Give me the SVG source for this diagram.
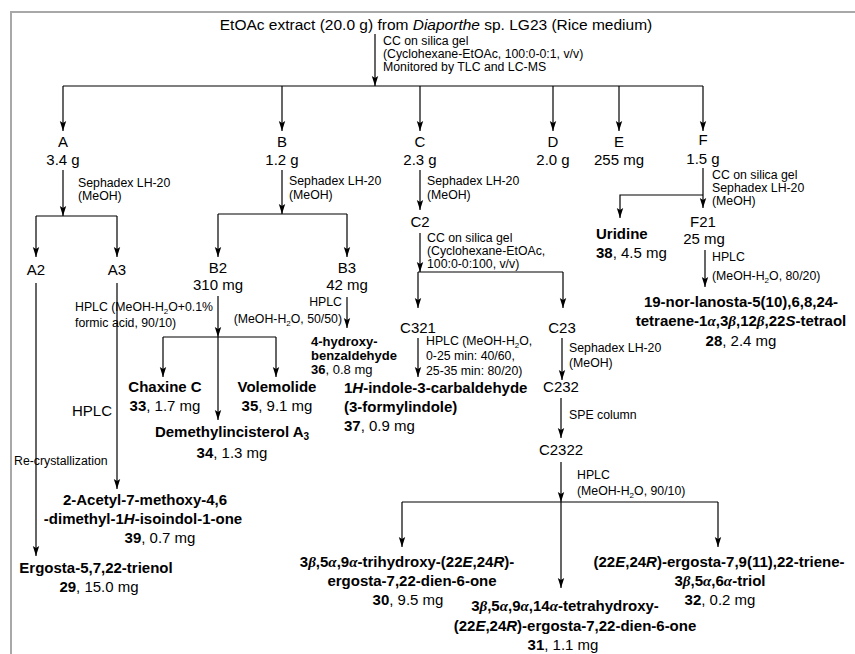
<svg xmlns="http://www.w3.org/2000/svg" width="855" height="654" viewBox="0 0 855 654">
<defs>
<marker id="ah" markerUnits="userSpaceOnUse" markerWidth="10" markerHeight="8" refX="10" refY="4" orient="auto"><path d="M0,0.8 L10,4 L0,7.2 L2,4 z" fill="#000"/></marker>
</defs>
<style>
text{font-family:"Liberation Sans",Arial,Helvetica,sans-serif;fill:#000}
.n{font-size:15px}
.s{font-size:12.3px}
.b{font-size:15px;font-weight:bold}
.bs{font-size:13px;font-weight:bold}
.g{font-family:"Liberation Serif","Times New Roman",serif;font-style:italic}
.i{font-style:italic}
.r{font-weight:normal}
.c{text-anchor:middle}
.e{text-anchor:end}
.ln{fill:none;stroke:#000;stroke-width:1.2}
.ar{marker-end:url(#ah)}
</style>
<rect width="855" height="654" fill="#fff"/>
<path d="M11,654 V12 H855" fill="none" stroke="#a8a8a8" stroke-width="2"/>
<g id="connectors" class="ln">
<path class="ar" d="M375,34 V86"/>
<path d="M63,86 H703"/>
<path class="ar" d="M63,86 V131"/>
<path class="ar" d="M282,86 V131"/>
<path class="ar" d="M420,86 V131"/>
<path class="ar" d="M553,86 V131"/>
<path class="ar" d="M619,86 V131"/>
<path class="ar" d="M703,86 V131"/>
<path class="ar" d="M63,170 V216"/>
<path d="M36,216 H117"/>
<path class="ar" d="M36,216 V257"/>
<path class="ar" d="M117,216 V257"/>
<path class="ar" d="M36,283 V556"/>
<path class="ar" d="M117,283 V489"/>
<path class="ar" d="M282,170 V214"/>
<path d="M218,214 H347"/>
<path class="ar" d="M218,214 V257"/>
<path class="ar" d="M347,214 V257"/>
<path class="ar" d="M218,296 V337"/>
<path class="ar" d="M218,337 V420"/>
<path d="M163,337 H276"/>
<path class="ar" d="M163,337 V377"/>
<path class="ar" d="M276,337 V377"/>
<path class="ar" d="M347,297 V328"/>
<path class="ar" d="M420,170 V210"/>
<path class="ar" d="M420,233 V272"/>
<path d="M418,272 H563"/>
<path class="ar" d="M418,272 V308"/>
<path class="ar" d="M563,272 V308"/>
<path class="ar" d="M418,338 V377"/>
<path class="ar" d="M562,338 V380"/>
<path class="ar" d="M561,398 V438"/>
<path class="ar" d="M561,462 V502"/>
<path d="M402,502 H718"/>
<path class="ar" d="M402,502 V547"/>
<path class="ar" d="M561,502 V588"/>
<path class="ar" d="M718,502 V547"/>
<path class="ar" d="M703,168 V208"/>
<path class="ar" d="M703,195 H620 V218"/>
<path class="ar" d="M705,250 V287"/>
</g>
<g id="labels">
<text class="s" x="383" y="45">CC on silica gel</text>
<text class="s" x="383" y="58">(Cyclohexane-EtOAc, 100:0-0:1, v/v)</text>
<text class="s" x="383" y="71">Monitored by TLC and LC-MS</text>
<text class="s" x="78" y="187">Sephadex LH-20</text>
<text class="s" x="78" y="200">(MeOH)</text>
<text class="s" x="289" y="185">Sephadex LH-20</text>
<text class="s" x="289" y="199">(MeOH)</text>
<text class="s" x="427" y="185">Sephadex LH-20</text>
<text class="s" x="427" y="199">(MeOH)</text>
<text class="s" x="427" y="242">CC on silica gel</text>
<text class="s" x="427" y="255">(Cyclohexane-EtOAc,</text>
<text class="s" x="427" y="268">100:0-0:100, v/v)</text>
<text class="s" x="712" y="179">CC on silica gel</text>
<text class="s" x="712" y="192">Sephadex LH-20</text>
<text class="s" x="712" y="205">(MeOH)</text>
<text class="s" x="712" y="261">HPLC</text>
<text class="s" x="712" y="280">(MeOH-H<tspan font-size="8" dy="3">2</tspan><tspan dy="-3">O, 80/20)</tspan></text>
<text class="s" x="75" y="311">HPLC (MeOH-H<tspan font-size="8" dy="3">2</tspan><tspan dy="-3">O+0.1%</tspan></text>
<text class="s" x="75" y="327">formic acid, 90/10)</text>
<text class="n e" x="112" y="416">HPLC</text>
<text class="s" x="14" y="465">Re-crystallization</text>
<text class="s e" x="342" y="306">HPLC</text>
<text class="s e" x="342" y="323">(MeOH-H<tspan font-size="8" dy="3">2</tspan><tspan dy="-3">O, 50/50)</tspan></text>
<text class="s" x="426" y="345">HPLC (MeOH-H<tspan font-size="8" dy="3">2</tspan><tspan dy="-3">O,</tspan></text>
<text class="s" x="426" y="360">0-25 min: 40/60,</text>
<text class="s" x="426" y="375">25-35 min: 80/20)</text>
<text class="s" x="569" y="352">Sephadex LH-20</text>
<text class="s" x="569" y="367">(MeOH)</text>
<text class="s" x="569" y="419">SPE column</text>
<text class="s" x="577" y="479">HPLC</text>
<text class="s" x="577" y="495">(MeOH-H<tspan font-size="8" dy="3">2</tspan><tspan dy="-3">O, 90/10)</tspan></text>
</g>
<g id="root"><text class="c" x="436" y="30" font-size="15.5">EtOAc extract (20.0 g) from <tspan class="i">Diaporthe</tspan> sp. LG23 (Rice medium)</text></g>
<g id="A"><text class="n c" x="63" y="147">A</text><text class="n c" x="63" y="165">3.4 g</text></g>
<g id="B"><text class="n c" x="282" y="147">B</text><text class="n c" x="282" y="165">1.2 g</text></g>
<g id="C"><text class="n c" x="420" y="147">C</text><text class="n c" x="420" y="165">2.3 g</text></g>
<g id="D"><text class="n c" x="553" y="147">D</text><text class="n c" x="553" y="165">2.0 g</text></g>
<g id="E"><text class="n c" x="619" y="147">E</text><text class="n c" x="619" y="165">255 mg</text></g>
<g id="F"><text class="n c" x="703" y="145">F</text><text class="n c" x="703" y="164">1.5 g</text></g>
<g id="A2"><text class="n c" x="36" y="275">A2</text></g>
<g id="A3"><text class="n c" x="117" y="275">A3</text></g>
<g id="B2"><text class="n c" x="218" y="273">B2</text><text class="n c" x="218" y="290">310 mg</text></g>
<g id="B3"><text class="n c" x="347" y="273">B3</text><text class="n c" x="347" y="290">42 mg</text></g>
<g id="C2"><text class="n c" x="420" y="227">C2</text></g>
<g id="C321"><text class="n c" x="418" y="333">C321</text></g>
<g id="C23"><text class="n c" x="562" y="333">C23</text></g>
<g id="C232"><text class="n c" x="561" y="392">C232</text></g>
<g id="C2322"><text class="n c" x="561" y="455">C2322</text></g>
<g id="F21"><text class="n c" x="703" y="227">F21</text><text class="n c" x="704" y="244">25 mg</text></g>
<g id="c38"><text class="b" x="596" y="239">Uridine</text><text class="b" x="596" y="258">38<tspan class="r">, 4.5 mg</tspan></text></g>
<g id="c28">
<text class="b c" x="741" y="307">19-nor-lanosta-5(10),6,8,24-</text>
<text class="b c" x="741" y="326">tetraene-1<tspan class="g">α</tspan>,3<tspan class="g">β</tspan>,12<tspan class="g">β</tspan>,22<tspan class="i">S</tspan>-tetraol</text>
<text class="b c" x="741" y="346">28<tspan class="r">, 2.4 mg</tspan></text>
</g>
<g id="c29"><text class="b c" x="96" y="573">Ergosta-5,7,22-trienol</text><text class="b c" x="99" y="592">29<tspan class="r">, 15.0 mg</tspan></text></g>
<g id="c39">
<text class="b c" x="145" y="505">2-Acetyl-7-methoxy-4,6</text>
<text class="b c" x="143" y="524">-dimethyl-1<tspan class="i">H</tspan>-isoindol-1-one</text>
<text class="b c" x="160" y="543">39<tspan class="r">, 0.7 mg</tspan></text>
</g>
<g id="c33"><text class="b c" x="165" y="392">Chaxine C</text><text class="b c" x="165" y="411">33<tspan class="r">, 1.7 mg</tspan></text></g>
<g id="c35"><text class="b c" x="277" y="392">Volemolide</text><text class="b c" x="277" y="411">35<tspan class="r">, 9.1 mg</tspan></text></g>
<g id="c34"><text class="b c" x="232" y="437">Demethylincisterol A<tspan font-size="10" dy="3">3</tspan></text><text class="b c" x="232" y="458">34<tspan class="r">, 1.3 mg</tspan></text></g>
<g id="c36"><text class="bs" x="311" y="346">4-hydroxy-</text><text class="bs" x="311" y="360">benzaldehyde</text><text class="bs" x="311" y="374">36<tspan class="r">, 0.8 mg</tspan></text></g>
<g id="c37"><text class="b" x="344" y="393">1<tspan class="i">H</tspan>-indole-3-carbaldehyde</text><text class="b" x="344" y="412">(3-formylindole)</text><text class="b" x="344" y="431">37<tspan class="r">, 0.9 mg</tspan></text></g>
<g id="c30">
<text class="b c" x="407" y="567">3<tspan class="g">β</tspan>,5<tspan class="g">α</tspan>,9<tspan class="g">α</tspan>-trihydroxy-(22<tspan class="i">E</tspan>,24<tspan class="i">R</tspan>)-</text>
<text class="b c" x="412" y="586">ergosta-7,22-dien-6-one</text>
<text class="b c" x="408" y="605">30<tspan class="r">, 9.5 mg</tspan></text>
</g>
<g id="c31">
<text class="b c" x="565" y="611">3<tspan class="g">β</tspan>,5<tspan class="g">α</tspan>,9<tspan class="g">α</tspan>,14<tspan class="g">α</tspan>-tetrahydroxy-</text>
<text class="b c" x="575" y="631">(22<tspan class="i">E</tspan>,24<tspan class="i">R</tspan>)-ergosta-7,22-dien-6-one</text>
<text class="b c" x="563" y="650">31<tspan class="r">, 1.1 mg</tspan></text>
</g>
<g id="c32">
<text class="b c" x="719" y="567">(22<tspan class="i">E</tspan>,24<tspan class="i">R</tspan>)-ergosta-7,9(11),22-triene-</text>
<text class="b c" x="720" y="586">3<tspan class="g">β</tspan>,5<tspan class="g">α</tspan>,6<tspan class="g">α</tspan>-triol</text>
<text class="b c" x="720" y="605">32<tspan class="r">, 0.2 mg</tspan></text>
</g>
</svg>
